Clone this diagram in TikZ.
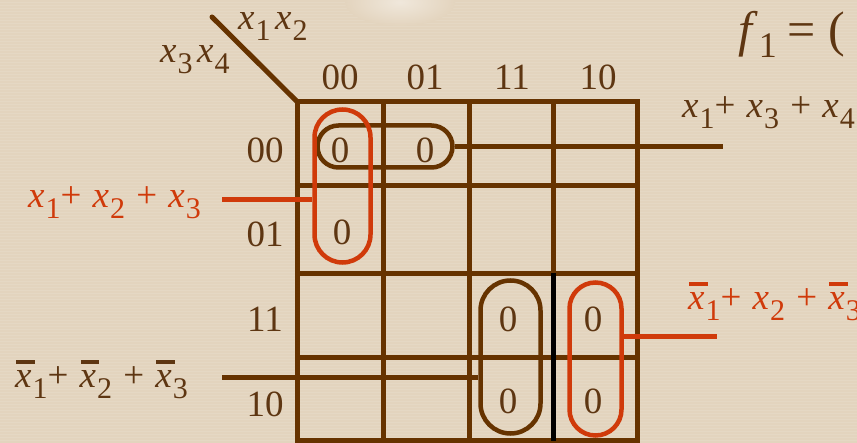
\documentclass[tikz,border=0pt]{standalone}
\usepackage{fontspec}
\setmainfont{Liberation Serif}
\definecolor{bg}{RGB}{227,212,190}
\definecolor{kbrown}{RGB}{102,51,0}
\definecolor{ktext}{RGB}{94,54,18}
\definecolor{kred}{RGB}{208,58,10}
\newcommand\xs[1]{\textit{x}\kern0.03em\raisebox{-0.28em}{\fontsize{30}{30}\selectfont #1}}
\newcommand\xb[1]{\rlap{\kern0.03em\rule[0.66em]{0.5em}{0.1em}}\xs{#1}}
\newcommand\ksp{\hspace{0.3em}}
\begin{document}
\begin{tikzpicture}[x=1pt,y=-1pt,
  gridline/.style={draw=kbrown,line width=5pt},
  conb/.style={draw=kbrown,line width=5pt},
  conr/.style={draw=kred,line width=5pt},
  loopb/.style={draw=kbrown,line width=4.5pt,inner sep=0pt},
  loopr/.style={draw=kred,line width=4.5pt,inner sep=0pt},
  lbl/.style={font=\fontsize{37}{40}\selectfont,text=ktext,inner sep=0pt},
  lblr/.style={font=\fontsize{37}{40}\selectfont,text=kred,inner sep=0pt}]
\useasboundingbox (0,0) rectangle (857,443);
\fill[bg] (0,0) rectangle (857,443);
\foreach \yy in {0,3,...,443} {\draw[white,opacity=0.10,line width=1pt] (0,\yy) -- (857,\yy);}
\shade[inner color=white!45!bg, outer color=bg] (400,2) ellipse (55 and 24);
% grid
\draw[gridline] (297,101.5) rectangle (637,441);
\draw[gridline] (383,101.5) -- (383,441);
\draw[gridline] (469,101.5) -- (469,441);
\draw[gridline] (553,101.5) -- (553,273.5);
\draw[gridline] (297,185.5) -- (637,185.5);
\draw[gridline] (297,273.5) -- (637,273.5);
\draw[gridline] (297,357.5) -- (637,357.5);
\draw[draw=black,line width=5pt] (553,273.5) -- (553,441);
\draw[line width=5pt,kbrown,line cap=round] (297,101.5) -- (212,17);
% loops
\node[loopb,rounded corners=21pt,minimum width=135pt,minimum height=42pt] (bl1) at (385,146.5) {};
\node[loopr,rounded corners=28pt,minimum width=56pt,minimum height=153pt] (rl1) at (342.5,186) {};
\node[loopb,rounded corners=30pt,minimum width=60pt,minimum height=153pt] (bl2) at (510.5,357) {};
\node[loopr,rounded corners=26pt,minimum width=52pt,minimum height=153pt] (rl2) at (595.5,359) {};
% connectors
\coordinate (cR1) at (222,200);
\coordinate (cB1) at (723,146.5);
\coordinate (cB2) at (222,378);
\coordinate (cR2) at (717,336.7);
\draw[conr] (cR1) -- (cR1 -| rl1.west);
\draw[conb] (bl1.east) -- (cB1);
\draw[conb] (cB2) -- (cB2 -| bl2.west);
\draw[conr] (rl2.east |- cR2) -- (cR2);
% axis labels
\node[lbl,anchor=base west] (t12) at (238,30) {\xs{1}\hspace{0.12em}\xs{2}};
\node[lbl,anchor=base west] (t34) at (160,63) {\xs{3}\hspace{0.12em}\xs{4}};
\node[lbl,anchor=base] (c00) at (340,90) {00};
\node[lbl,anchor=base] (c01) at (425,90) {01};
\node[lbl,anchor=base] (c11) at (512,90) {11};
\node[lbl,anchor=base] (c10) at (598,90) {10};
\node[lbl,anchor=base] (r00) at (265,163) {00};
\node[lbl,anchor=base] (r01) at (265,247) {01};
\node[lbl,anchor=base] (r11) at (265,332) {11};
\node[lbl,anchor=base] (r10) at (265,417) {10};
% cell values
\node[lbl,anchor=base] (v1) at (340,163) {0};
\node[lbl,anchor=base] (v2) at (425,163) {0};
\node[lbl,anchor=base] (v3) at (342,245) {0};
\node[lbl,anchor=base] (v4) at (508,332) {0};
\node[lbl,anchor=base] (v5) at (593,332) {0};
\node[lbl,anchor=base] (v6) at (508,414) {0};
\node[lbl,anchor=base] (v7) at (593,414) {0};
% expressions
\node[lbl,anchor=base west,font=\fontsize{50}{52}\selectfont] (f1) at (738,47) {\textit{f}\kern0.02em\raisebox{-0.22em}{\fontsize{36}{36}\selectfont 1}\hspace{0.22em}=\hspace{0.25em}(};
\node[lbl,anchor=base west] (e1) at (682,118) {\xs{1}+\ksp\xs{3}\ksp+\ksp\xs{4}};
\node[lblr,anchor=base west] (e2) at (28,208) {\xs{1}+\ksp\xs{2}\ksp+\ksp\xs{3}};
\node[lbl,anchor=base west] (e3) at (15,388) {\xb{1}+\ksp\xb{2}\ksp+\ksp\xb{3}};
\node[lblr,anchor=base west] (e4) at (688,310) {\xb{1}+\ksp\xs{2}\ksp+\ksp\xb{3}};
\end{tikzpicture}
\end{document}
